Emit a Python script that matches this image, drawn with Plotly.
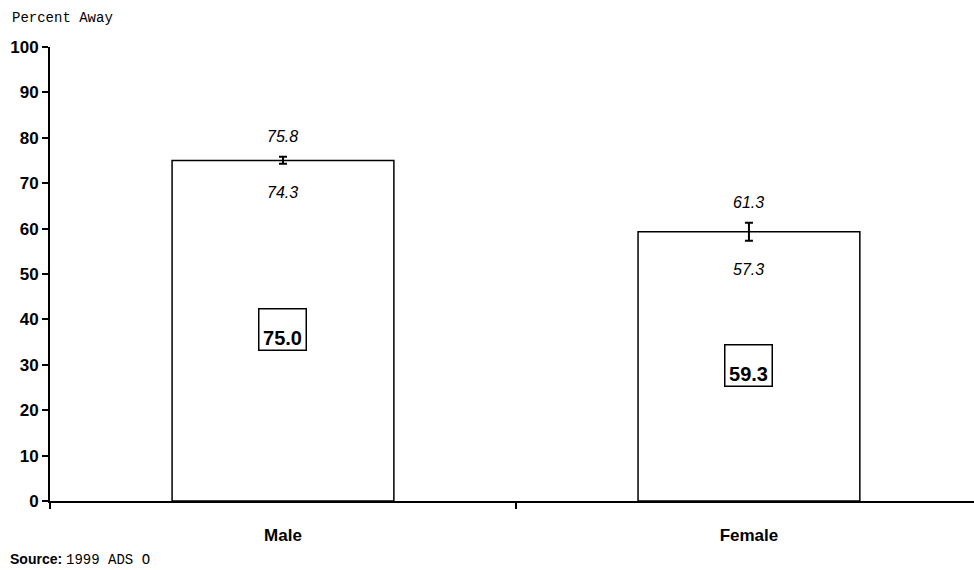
import plotly.graph_objects as go

categories = ["Male", "Female"]
values = [75.0, 59.3]
upper = [75.8, 61.3]
lower = [74.3, 57.3]
y_ticks = [0, 10, 20, 30, 40, 50, 60, 70, 80, 90, 100]

err_plus = [u - v for u, v in zip(upper, values)]
err_minus = [v - l for v, l in zip(values, lower)]

ARIAL = "Arial, Liberation Sans, sans-serif"
MONO = "Liberation Mono, Courier New, monospace"

fig = go.Figure()
fig.add_trace(go.Bar(
    x=categories, y=values, width=0.476,
    marker=dict(color="white", line=dict(color="black", width=1.5)),
    error_y=dict(type="data", symmetric=False, array=err_plus, arrayminus=err_minus,
                 color="black", thickness=2, width=4),
    showlegend=False, hoverinfo="skip",
))

ann = []
for c, v, u, l in zip(categories, values, upper, lower):
    ann.append(dict(x=c, y=u, text=f"<i>{u:.1f}</i>", showarrow=False, yshift=20,
                    font=dict(family=ARIAL, size=16, color="black")))
    ann.append(dict(x=c, y=l, text=f"<i>{l:.1f}</i>", showarrow=False, yshift=-29,
                    font=dict(family=ARIAL, size=16, color="black")))
    ann.append(dict(x=c, y=v / 2, text=f"<b>{v:.1f}</b>", showarrow=False, yshift=1,
                    width=44, height=38, valign="bottom", align="center",
                    bordercolor="black", borderwidth=1.5, borderpad=1, bgcolor="white",
                    font=dict(family=ARIAL, size=20, color="black")))

ann.append(dict(xref="paper", yref="paper", x=-0.043, y=1.0, yshift=29, xanchor="left",
                yanchor="middle", text="Percent Away", showarrow=False,
                font=dict(family=MONO, size=14, color="black")))
ann.append(dict(xref="paper", yref="paper", x=-0.045, y=0, yshift=-58, xanchor="left",
                yanchor="middle",
                text=f"<b>Source:</b> <span style='font-family:{MONO};font-size:14px'>1999 ADS O</span>",
                showarrow=False,
                font=dict(family=ARIAL, size=14, color="black")))

fig.update_layout(
    width=974, height=570,
    margin=dict(l=50, r=0, t=47, b=69, autoexpand=False),
    paper_bgcolor="white", plot_bgcolor="white",
    annotations=ann,
    xaxis=dict(range=[-0.5, 1.483], showgrid=False, showline=True, linecolor="black",
               linewidth=2, ticks="outside", tickson="boundaries", ticklen=6,
               tickwidth=2, tickcolor="black", ticklabelstandoff=18, automargin=False,
               tickfont=dict(family=ARIAL, size=17, color="black", weight="bold"),
               fixedrange=True),
    yaxis=dict(range=[0, 100], tickvals=y_ticks, showgrid=False, zeroline=False,
               showline=True, linecolor="black", linewidth=2, ticks="outside",
               ticklen=6, tickwidth=2, tickcolor="black", automargin=False,
               tickfont=dict(family=ARIAL, size=17, color="black", weight="bold"),
               fixedrange=True),
)

fig.write_html("out.html", config={"displayModeBar": False},
               post_script="document.body.style.margin='0';")
